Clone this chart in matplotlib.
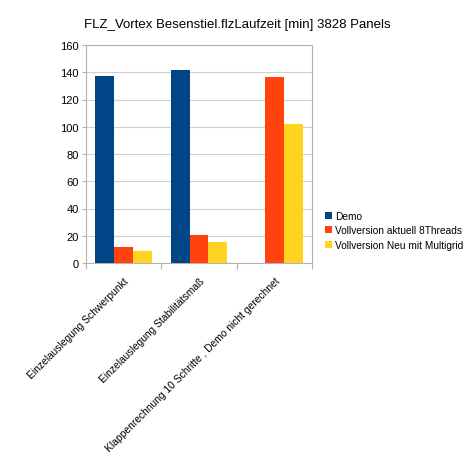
import numpy as np
import matplotlib.pyplot as plt

plt.rcParams['font.family'] = ['Liberation Sans', 'DejaVu Sans']

categories = ["Einzelauslegung Schwerpunkt",
              "Einzelauslegung Stabilitätsmaß",
              "Klappenrechnung 10 Schritte , Demo nicht gerechnet"]
demo = [137, 141.5, 0]
voll_8threads = [11.5, 20.5, 136.5]
voll_multigrid = [8.5, 15.5, 102]
series = ["Demo", "Vollversion aktuell 8Threads", "Vollversion Neu mit Multigrid"]
colors = ["#004586", "#ff420e", "#ffd320"]

fig = plt.figure(figsize=(4.74, 4.64), dpi=100)
ax = fig.add_axes([86/474, 1-264/464, 226/474, 218/464])

x = np.arange(len(categories))
w = 0.252
for i, (vals, name, c) in enumerate(zip([demo, voll_8threads, voll_multigrid], series, colors)):
    ax.bar(x + (i-1)*w, vals, w, color=c, label=name, zorder=3)

ax.set_xlim(-0.5, 2.5)
ax.set_ylim(0, 160)
ax.set_yticks(range(0, 161, 20))
ax.yaxis.grid(True, color='#d0d0d0', linewidth=0.8, zorder=0)
for s in ax.spines.values():
    s.set_color('#b3b3b3')
    s.set_linewidth(0.8)
ax.tick_params(axis='y', labelsize=8, length=3, color='#b3b3b3', pad=2)

ax.set_xticks([-0.5, 0.5, 1.5, 2.5], minor=False)
ax.set_xticklabels([])
ax.tick_params(axis='x', length=4, color='#b3b3b3')
ax.set_xticks(x, minor=True)
ax.set_xticklabels(categories, minor=True, rotation=45, ha='right',
                   rotation_mode='anchor', fontsize=7.35)
ax.tick_params(axis='x', which='minor', length=0, pad=9)

fig.text(237/474, 1-25/464, "FLZ_Vortex Besenstiel.flzLaufzeit [min] 3828 Panels",
         ha='center', va='center', fontsize=9.5)

ax.legend(loc='center left', bbox_to_anchor=(1.04, 0.15), frameon=False,
          fontsize=7.3, handlelength=0.7, handleheight=0.7, handletextpad=0.3,
          labelspacing=0.45, borderaxespad=0)

fig.savefig("out.png", dpi=100)
